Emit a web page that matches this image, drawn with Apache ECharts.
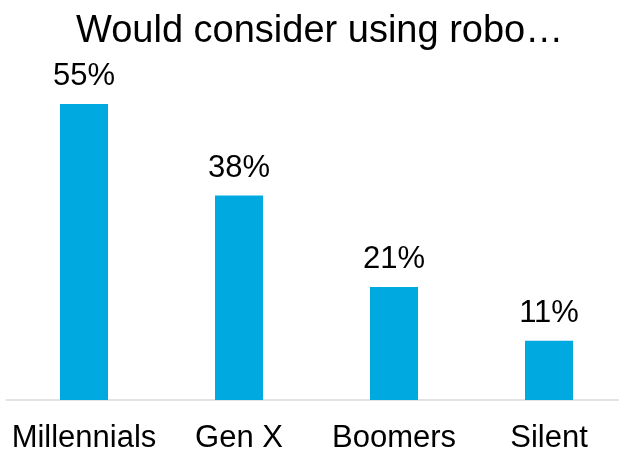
<!DOCTYPE html>
<html>
<head>
<meta charset="utf-8">
<script src="https://cdn.jsdelivr.net/npm/echarts@6/dist/echarts.min.js"></script>
<style>
  html, body { margin: 0; padding: 0; background: #ffffff; }
  #chart { width: 619px; height: 451px; }
</style>
</head>
<body>
<div id="chart"></div>
<script>
// Share of each generation that would consider using a robo-advisor (%)
const generations = ['Millennials', 'Gen X', 'Boomers', 'Silent'];
const considerShare = [55, 38, 21, 11];

const chart = echarts.init(document.getElementById('chart'), null, { renderer: 'canvas' });

chart.setOption({
  animation: false,
  backgroundColor: '#ffffff',
  title: {
    text: 'Would consider using robo…',
    left: 71,
    top: 8,
    textStyle: {
      fontFamily: 'Liberation Sans, Arial, sans-serif',
      fontWeight: 'normal',
      fontSize: 38,
      color: '#000000'
    }
  },
  grid: {
    left: 6.5,
    top: 104,
    width: 620,
    height: 296,
    containLabel: false,
    outerBoundsMode: 'none'
  },
  xAxis: {
    type: 'category',
    data: generations,
    axisLine: { show: true, lineStyle: { color: '#d9d9d9', width: 1.5 } },
    axisTick: { show: false },
    axisLabel: {
      interval: 0,
      margin: 23,
      fontFamily: 'Liberation Sans, Arial, sans-serif',
      fontSize: 31,
      color: '#000000'
    }
  },
  yAxis: {
    type: 'value',
    min: 0,
    max: 55,
    show: false,
    splitLine: { show: false }
  },
  series: [{
    type: 'bar',
    data: considerShare,
    barWidth: 48,
    itemStyle: { color: '#00a9e0' },
    label: {
      show: true,
      position: 'top',
      distance: 12,
      formatter: p => p.value + '%',
      fontFamily: 'Liberation Sans, Arial, sans-serif',
      fontSize: 31,
      color: '#000000'
    }
  }]
});
</script>
</body>
</html>
